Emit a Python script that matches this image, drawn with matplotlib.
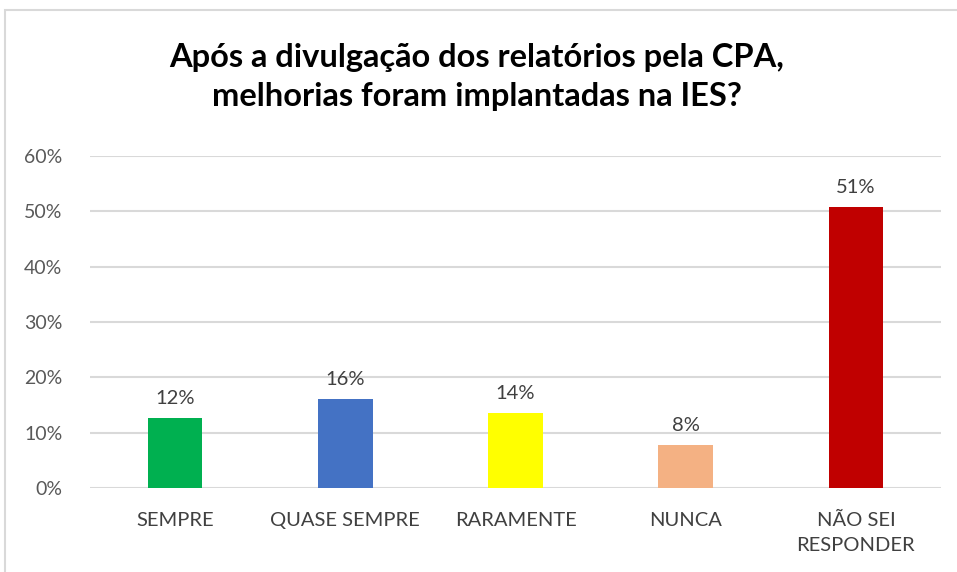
import matplotlib
matplotlib.use("Agg")
import matplotlib.pyplot as plt
from matplotlib.patches import Rectangle
from matplotlib.ticker import PercentFormatter

plt.rcParams['font.family'] = ['Lato', 'DejaVu Sans']

categories = ['SEMPRE', 'QUASE SEMPRE', 'RARAMENTE', 'NUNCA', 'NÃO SEI\nRESPONDER']
values = [12.6, 16.1, 13.6, 7.8, 50.7]
labels = ['12%', '16%', '14%', '8%', '51%']
colors = ['#00B050', '#4472C4', '#FFFF00', '#F4B183', '#C00000']
yticks = [0, 10, 20, 30, 40, 50, 60]

fig = plt.figure(figsize=(9.57, 5.72), dpi=100)
fig.patches.append(Rectangle((5 / 957, -0.01), 1.02, 1 - 10 / 572 + 0.01,
                             transform=fig.transFigure, fill=False,
                             edgecolor='#D9D9D9', linewidth=1.5))

ax = fig.add_axes([90 / 957, 1 - 488 / 572, 851 / 957, 332 / 572])
x = range(len(categories))
bars = ax.bar(x, values, width=0.32, color=colors, zorder=3)

for b, lab in zip(bars, labels):
    ax.annotate(lab, (b.get_x() + b.get_width() / 2, b.get_height()),
                xytext=(0, 8), textcoords='offset points',
                ha='center', va='bottom', fontsize=14.5, color='#404040')

ax.set_xlim(-0.5, len(categories) - 0.5)
ax.set_ylim(0, 60)
ax.set_yticks(yticks)
ax.yaxis.set_major_formatter(PercentFormatter(decimals=0))
ax.set_xticks(list(x))
ax.set_xticklabels(categories, fontsize=14.5, color='#404040', linespacing=1.6)
ax.tick_params(axis='y', labelsize=14, labelcolor='#595959', length=0, pad=20)
ax.tick_params(axis='x', length=0, pad=17)
for t in ax.get_yticklabels():
    t.set_horizontalalignment('right')
ax.grid(axis='y', color='#D9D9D9', linewidth=1.5, zorder=0)
for s in ax.spines.values():
    s.set_visible(False)

fig.text(477 / 957, 1 - 77 / 572,
         'Após a divulgação dos relatórios pela CPA,\nmelhorias foram implantadas na IES?',
         ha='center', va='center', fontsize=23.5, fontweight='bold',
         color='black', linespacing=1.45)

fig.savefig('out.png', dpi=100)
